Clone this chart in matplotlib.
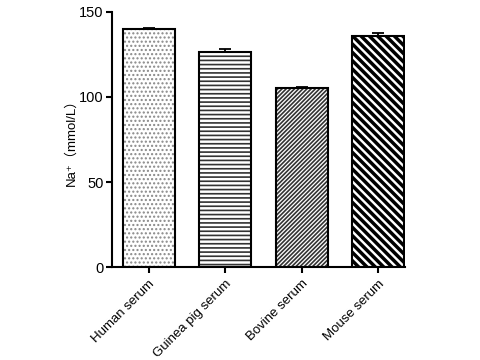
import matplotlib.pyplot as plt
from matplotlib.colors import to_rgba

plt.rcParams["font.family"] = ["Liberation Sans", "Noto Sans CJK SC", "DejaVu Sans"]

groups = ["Human serum", "Guinea pig serum", "Bovine serum", "Mouse serum"]
na_mean = [140, 126.5, 105, 136]
na_sem = [0.8, 1.8, 1.0, 1.8]
hatches = ["....", "----", "////////", "\\\\\\\\"]
hatch_colors = ["#888888", "#333333", "#333333", "black"]
hatch_widths = [1.0, 1.2, 1.2, 2.5]

fig = plt.figure(figsize=(4.8, 3.6), dpi=100)
ax = fig.add_axes([0.233, 0.258, 0.611, 0.709])

x = range(len(groups))
for i in x:
    b = ax.bar(i, na_mean[i], width=0.68, color="white", edgecolor="black",
               linewidth=1.5, hatch=hatches[i], zorder=2)
    for p in b:
        p._hatch_color = to_rgba(hatch_colors[i])
        if hasattr(p, "set_hatch_linewidth"):
            p.set_hatch_linewidth(hatch_widths[i])
    # error bar only upward
    ax.errorbar(i, na_mean[i], yerr=[[0], [na_sem[i]]], fmt="none",
                ecolor="black", elinewidth=1.3, capsize=4.5, capthick=1.3, zorder=3)

ax.set_xlim(-0.48, 3.35)
ax.set_ylim(0, 150)
ax.set_yticks([0, 50, 100, 150])
ax.set_xticks(list(x))
ax.set_xticklabels(groups, rotation=45, ha="right", rotation_mode="anchor", fontsize=9.5)
ax.tick_params(axis="y", labelsize=10.5, width=1.5, length=4, pad=2)
ax.tick_params(axis="x", width=1.5, length=4)
ax.set_ylabel("Na⁺（mmol/L）", fontsize=9.5, labelpad=1)
for s in ["top", "right"]:
    ax.spines[s].set_visible(False)
for s in ["left", "bottom"]:
    ax.spines[s].set_linewidth(1.5)

plt.savefig("out.png", dpi=100)
